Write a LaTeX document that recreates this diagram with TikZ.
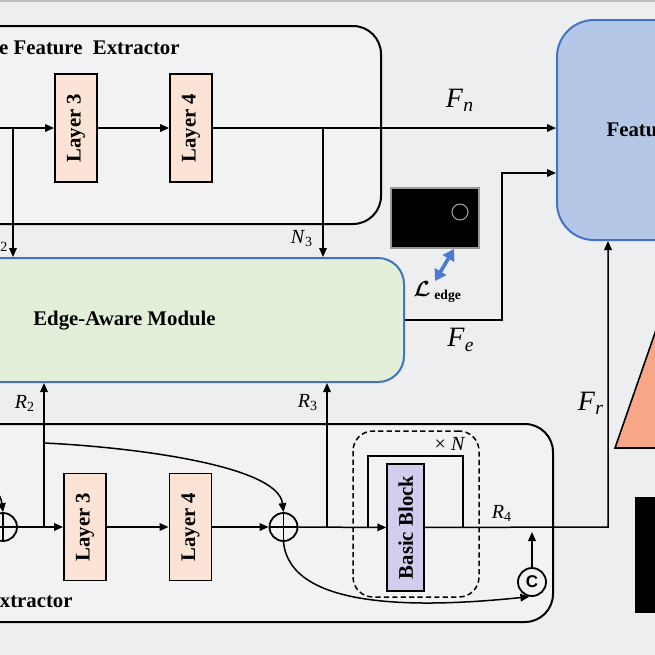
\documentclass[tikz,border=0pt]{standalone}
\usepackage{fontspec}
\setmainfont{Liberation Serif}
\newfontfamily\sansf{Liberation Sans}
\usepackage{bm}
\usetikzlibrary{arrows.meta,calc}
\definecolor{bg}{HTML}{EDEEF0}
\definecolor{boxfill}{HTML}{F2F2F3}
\definecolor{layerfill}{HTML}{FBE3D6}
\definecolor{edgefill}{HTML}{E2F0D9}
\definecolor{featfill}{HTML}{B4C7E7}
\definecolor{blueline}{HTML}{4472C4}
\definecolor{bbfill}{HTML}{D2CDEC}
\definecolor{trifill}{HTML}{F7A688}
\definecolor{bluearrowcol}{HTML}{4A7BD0}
\newcommand{\lsymbol}{$\bm{\mathcal{L}}$}
\begin{document}
\begin{tikzpicture}[x=0.5pt,y=-0.5pt,
  ln/.style={line width=0.75pt},
  arr/.style={ln,-{Triangle[length=4.5pt,width=3.8pt]}},
  dblblue/.style={draw=bluearrowcol,line width=1.8pt,arrows={Triangle[length=5.5pt,width=6.5pt]-Triangle[length=5.5pt,width=6.5pt]}},
  lbl/.style={font=\fontsize{10.4}{12}\selectfont\bfseries},
  layerbox/.style={draw,line width=0.9pt,fill=layerfill,minimum width=21pt,minimum height=54pt,inner sep=0pt},
  bigbox/.style={draw,line width=1pt,fill=boxfill,rounded corners=14pt,inner sep=0pt},
  oplus/.style={circle,draw,line width=0.9pt,minimum size=14pt,inner sep=0pt,fill=boxfill,
    path picture={\draw[line width=0.9pt] (path picture bounding box.north) -- (path picture bounding box.south)
      (path picture bounding box.west) -- (path picture bounding box.east);}},
  flab/.style={font=\fontsize{14}{16}\selectfont},
  rlab/.style={font=\fontsize{10}{12}\selectfont},
  symfont/.style={font=\fontsize{11}{12}\selectfont},
  subfont/.style={font=\fontsize{6.8}{8}\selectfont\bfseries},
  tinyfont/.style={font=\fontsize{7}{8}\selectfont},
  cfont/.style={font=\sansf\bfseries\fontsize{8.5}{9}\selectfont}]
\useasboundingbox (0,0) rectangle (655,655);
\clip (0,0) rectangle (655,655);
\fill[bg] (0,0) rectangle (655,655);
\draw[black!25,line width=1pt] (0,0.5) -- (655,0.5);

% ---------- upper extractor ----------
\node[bigbox,minimum width=210.5pt,minimum height=99pt] (topbox) at (170.5,125) {};
\node[lbl,anchor=base east,inner sep=0pt] (toptitle) at (180,54) {e Feature\ \ Extractor};
\node[layerbox,label={[rotate=90,lbl]center:Layer 3}] (t3) at (76,128) {};
\node[layerbox,label={[rotate=90,lbl]center:Layer 4}] (t4) at (191,128) {};

% ---------- edge-aware module ----------
\node[draw=blueline,line width=1pt,fill=edgefill,rounded corners=13pt,minimum width=222pt,minimum height=62pt,inner sep=0pt] (edge) at (182,320) {};
\node[lbl] (edgetext) at (124.5,321) {Edge-Aware Module};

% ---------- feature box ----------
\node[draw=blueline,line width=1pt,fill=featfill,rounded corners=18.5pt,minimum width=75pt,minimum height=110pt,inner sep=0pt,lbl] (feat) at (632,130) {Featu};

% ---------- edge image ----------
\node[draw=black!40,line width=0.6pt,fill=black,minimum width=44pt,minimum height=30pt,inner sep=0pt] (edgeimg) at (435,218) {};
\node[circle,draw=black!35,line width=0.5pt,minimum size=8pt,inner sep=0pt] (edgering) at (460,212) {};
\coordinate (lea) at (435,281);
\coordinate (leb) at (454,249);
\draw[dblblue] (leb) -- (lea);
\node[symfont] (lsym) at (422,289) {\lsymbol};
\node[subfont,anchor=base west,inner sep=0pt] (lsub) at (434,299) {edge};

% ---------- right decorations ----------
\filldraw[fill=trifill,draw=black,line width=0.8pt] (615,448) -- (656,330) -- (700,448) -- cycle;
\fill[black] (635,497) rectangle (700,613);

% ---------- lower extractor ----------
\node[bigbox,minimum width=296.5pt,minimum height=99pt] (botbox) at (256.5,523) {};
\node[lbl,anchor=base east,inner sep=0pt] (bottitle) at (73,607) {xtractor};
\node[draw,dashed,dash pattern=on 2.6pt off 1.6pt,line width=0.75pt,rounded corners=10pt,minimum width=63pt,minimum height=83pt,inner sep=0pt] (dbox) at (416,514) {};
\node[oplus] (lplus) at (3,527) {};
\node[layerbox,minimum height=53.5pt,label={[rotate=90,lbl]center:Layer 3}] (b3) at (85,527) {};
\node[layerbox,minimum height=53.5pt,label={[rotate=90,lbl]center:Layer 4}] (b4) at (190.5,527) {};
\node[oplus] (plus) at (283.5,527) {};
\node[draw,line width=0.9pt,fill=bbfill,minimum width=18.5pt,minimum height=63.5pt,inner sep=0pt,
  label={[rotate=90,lbl]center:Basic Block}] (bb) at (405.75,527.5) {};
\node[circle,draw,line width=0.9pt,minimum size=14pt,inner sep=0pt,fill=boxfill,cfont] (cc) at (532,582) {C};
\node[rlab] (xn) at (450,444) {× \textit{N}};

% ---------- upper connectors ----------
\coordinate (tin) at (-10,128);
\draw[arr] (tin) -- (t3);
\draw[arr] (t3) -- (t4);
\draw[arr] (t4) -- (t4 -| feat.west);
\coordinate (n2k) at (13,128);
\draw[arr] (n2k) -- (n2k |- edge.north);
\coordinate (n3k) at (323,128);
\draw[arr] (n3k) -- (n3k |- edge.north);
\coordinate (fek) at (502,173);
\draw[arr] (edge.east) -| (fek) -- (fek -| feat.west);

% ---------- lower connectors ----------
\coordinate (lin) at (-195,443);
\draw[arr] (lin) .. controls (-109,447) and (-3,465) .. (lplus.north);
\draw[arr] (lplus) -- (b3);
\draw[arr] (b3) -- (b4);
\draw[arr] (b4) -- (plus);
\draw[arr] (plus) -- (bb);
\coordinate (r2k) at (44,527);
\draw[arr] (r2k) -- (r2k |- edge.south);
\coordinate (r3k) at (327,527);
\draw[arr] (r3k) -- (r3k |- edge.south);
\coordinate (r2c) at (44,443);
\draw[arr] (r2c) .. controls (130,447) and (278,465) .. (plus.north);
\coordinate (lpa) at (368,527);
\coordinate (lpt) at (368,456);
\coordinate (lpb) at (463,527);
\draw[ln] (lpa) -- (lpt) -| (lpb);
\coordinate (frk) at (608,527);
\draw[arr] (bb) -- (frk) -- (frk |- feat.south);
\coordinate (ccup) at (532,532);
\draw[arr] (cc) -- (ccup);
\draw[arr] (plus.south) .. controls (290,610) and (420,608) .. (cc.-100);

% ---------- labels ----------
\node[flab] (fn) at (460,100) {\textit{F}\textsubscript{\textit{n}}};
\node[flab] (fe) at (461,340) {\textit{F}\textsubscript{\textit{e}}};
\node[flab] (fr) at (591,403) {\textit{F}\textsubscript{\textit{r}}};
\node[rlab] (n3) at (302,239) {\textit{N}\textsubscript{3}};
\node[tinyfont] (n2) at (4,247) {2};
\node[rlab] (r2) at (25,403) {\textit{R}\textsubscript{2}};
\node[rlab] (r3) at (308,403) {\textit{R}\textsubscript{3}};
\node[rlab] (r4) at (502,513) {\textit{R}\textsubscript{4}};
\end{tikzpicture}
\end{document}
